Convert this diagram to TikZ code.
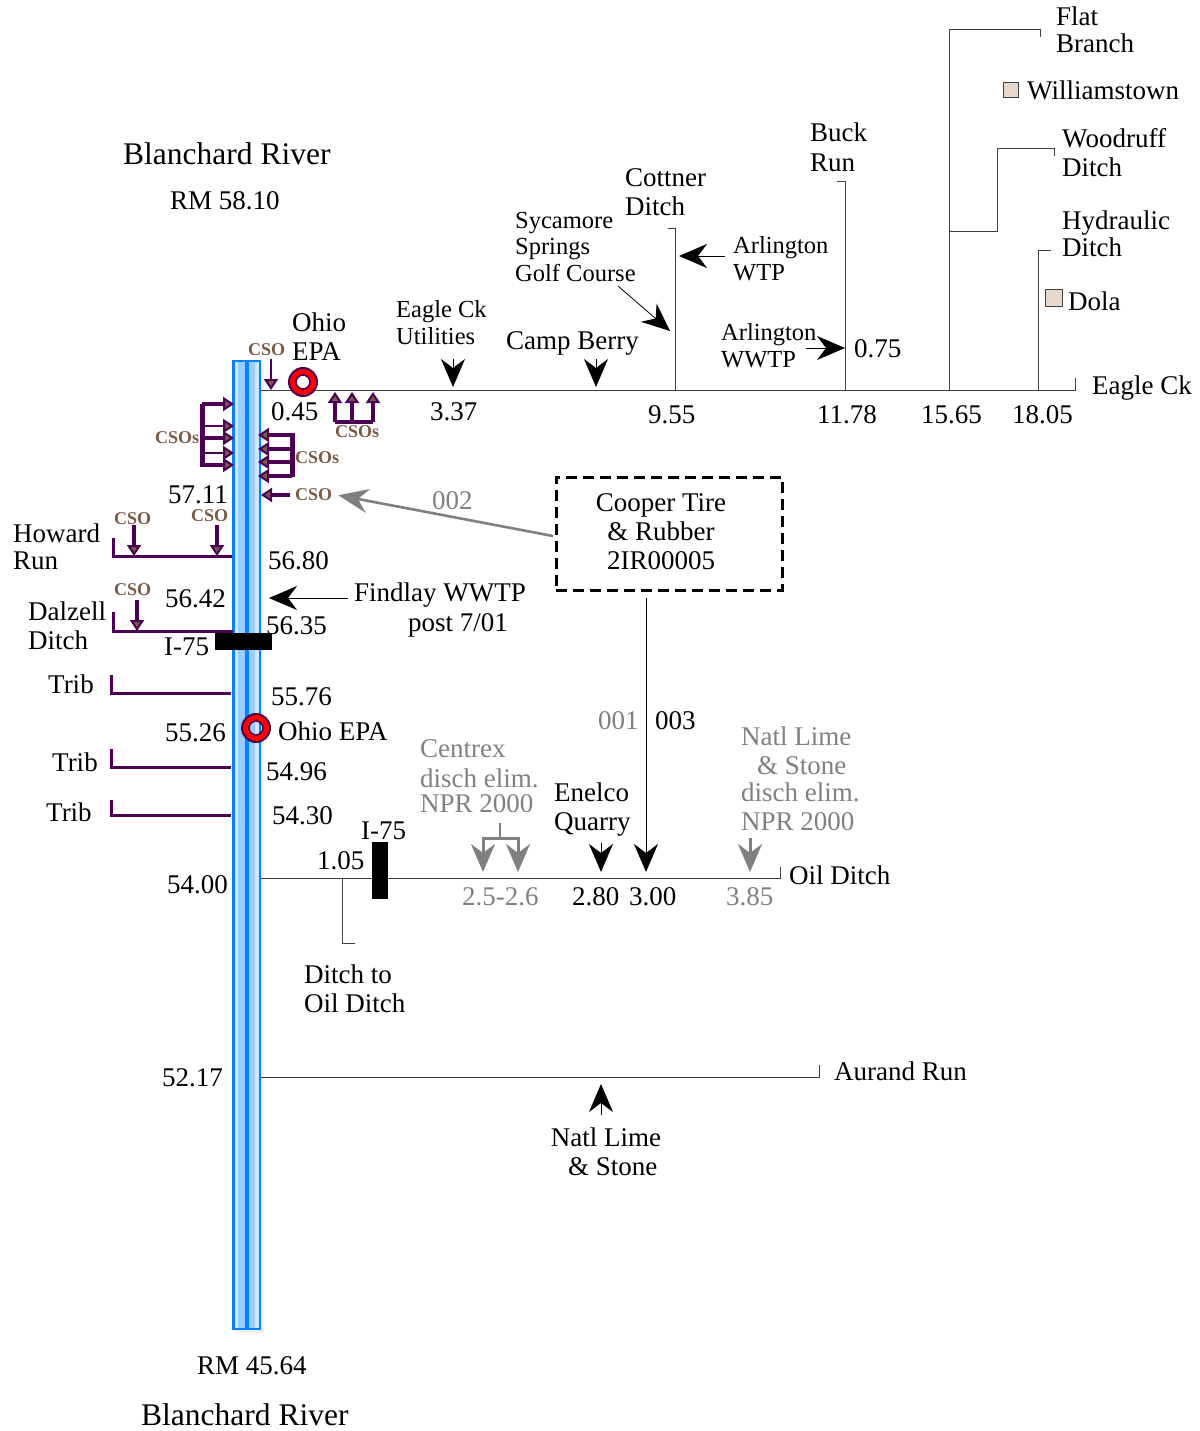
\documentclass[tikz,border=0pt]{standalone}
\usepackage{fontspec}
\setmainfont{Liberation Serif}
\usetikzlibrary{arrows.meta}
\definecolor{ink}{HTML}{404040}
\definecolor{faded}{HTML}{808080}
\definecolor{plum}{HTML}{4B0055}
\definecolor{csobrown}{HTML}{7A5A45}
\definecolor{riverblue}{HTML}{0A80FF}
\definecolor{rivermid}{HTML}{99CCFF}
\definecolor{riverpale}{HTML}{CFE7FF}
\definecolor{sandbox}{HTML}{E8D8CC}
\tikzset{
 lbl/.style={anchor=base west,inner sep=0pt,align=left,font=\fontsize{27}{29}\selectfont},
 lblc/.style={lbl,align=center,anchor=base},
 smalllbl/.style={lbl,font=\fontsize{24.5}{26.5}\selectfont},
 biglbl/.style={lbl,font=\fontsize{31.5}{33}\selectfont},
 gone/.style={text=faded},
 csolbl/.style={anchor=base west,inner sep=0pt,text=csobrown,font=\fontsize{18}{20}\selectfont\bfseries},
 stream/.style={draw=ink,line width=1pt},
 trib/.style={draw=plum,line width=3pt},
 discharge/.style={-{Stealth[length=28pt,width=24pt,inset=9pt]},draw=black,line width=.8pt},
 gonedischarge/.style={-{Stealth[length=28pt,width=24pt,inset=9pt]},draw=faded,line width=3pt},
 csopipe/.style={-{Triangle[length=11pt,width=14pt,line width=2pt,fill=csobrown]},draw=plum,line width=4.5pt},
 csothin/.style={csopipe,line width=2.5pt},
 roadbar/.style={fill=black,inner sep=0pt},
 townbox/.style={draw=ink,fill=sandbox,line width=.8pt,inner sep=0pt,minimum size=15pt},
 facility/.style={draw=black,line width=3pt,dash pattern=on 11pt off 6pt,inner sep=0pt}
}
\begin{document}
\begin{tikzpicture}[x=1pt,y=-1pt]
  \useasboundingbox (0,0) rectangle (1199,1431);

  % river bands
  \fill[riverpale!50] (235,363) rectangle (264,1333);
  \foreach \a/\b/\c in {232/261/riverblue,234.5/258.5/riverpale,238/255/rivermid,244.5/249/riverblue}
    \fill[\c] (\a,360) rectangle (\b,1330);
  \draw[riverblue,line width=2pt] (233,361) rectangle (260,1329);

  % tributaries on the left
  \foreach \n/\x/\t/\y/\e in {howard/113/538/556/232,dalzell/113/612/631/233,tribA/111/675/693/231,tribB/111/749/767/231,tribC/111/800/815/231}{
    \coordinate (\n top) at (\x,\t);
    \coordinate (\n mouth) at (\e,\y);
    \draw[trib] (\n top) |- (\n mouth);
  }

  % Eagle Creek and its branches
  \coordinate (eagleMouth) at (261,390);
  \coordinate (eagleEnd) at (1075,390);
  \coordinate (eagleTick) at (1075,378);
  \draw[stream] (eagleMouth) -- (eagleEnd) -- (eagleTick);
  \coordinate (cottnerFoot) at (675.5,390);
  \coordinate (cottnerTop) at (675.5,229);
  \coordinate (cottnerTick) at (668,229);
  \draw[stream] (cottnerFoot) -- (cottnerTop) -- (cottnerTick);
  \coordinate (buckFoot) at (845,390);
  \coordinate (buckTop) at (845,182);
  \coordinate (buckTick) at (837,182);
  \draw[stream] (buckFoot) -- (buckTop) -- (buckTick);
  \coordinate (flatFoot) at (949,390);
  \coordinate (flatBend) at (949,30);
  \coordinate (flatEnd) at (1040,30);
  \coordinate (flatTick) at (1040,37);
  \draw[stream] (flatFoot) -- (flatBend) -- (flatEnd) -- (flatTick);
  \coordinate (woodFoot) at (949,232);
  \coordinate (woodTop) at (997,149);
  \coordinate (woodEnd) at (1054,149);
  \coordinate (woodTick) at (1054,156);
  \draw[stream] (woodFoot) -| (woodTop) -- (woodEnd) -- (woodTick);
  \coordinate (hydraFoot) at (1038,390);
  \coordinate (hydraTop) at (1038,251);
  \coordinate (hydraTick) at (1051,251);
  \draw[stream] (hydraFoot) -- (hydraTop) -- (hydraTick);

  % Oil Ditch and Aurand Run
  \coordinate (oilMouth) at (261,878);
  \coordinate (oilEnd) at (780,878);
  \coordinate (oilTick) at (780,867);
  \draw[stream] (oilMouth) -- (oilEnd) -- (oilTick);
  \coordinate (subFoot) at (342.5,878);
  \coordinate (subEnd) at (355,943);
  \draw[stream] (subFoot) |- (subEnd);
  \coordinate (aurandMouth) at (261,1077);
  \coordinate (aurandEnd) at (819,1077);
  \coordinate (aurandTick) at (819,1065);
  \draw[stream] (aurandMouth) -- (aurandEnd) -- (aurandTick);

  % road crossings and towns
  \node[roadbar,minimum width=57pt,minimum height=17pt] (roadA) at (243.5,641.5) {};
  \node[roadbar,minimum width=16pt,minimum height=57pt] (roadB) at (380,870.5) {};
  \node[townbox] (williamstown) at (1010.5,89.5) {};
  \node[townbox,minimum size=17pt] (dola) at (1053.5,297.5) {};

  % sampling sites
  \foreach \n/\p in {siteA/{303,382},siteB/{256,728}}{
    \node[circle,draw=red,line width=7pt,minimum size=20pt,inner sep=0pt] (\n ring) at (\p) {};
    \node[circle,draw=plum,line width=2pt,minimum size=28pt,inner sep=0pt] (\n) at (\p) {};
    \node[circle,draw=plum,line width=1.6pt,minimum size=14pt,inner sep=0pt] (\n core) at (\p) {};
  }

  % facility box
  \node[facility,minimum width=226pt,minimum height=113pt] (cooper) at (669,533.5) {};
  \node[lblc] (cooperlbl) at (661,569) {Cooper Tire\\\& Rubber\\2IR00005};

  % texts
  \foreach \n/\p/\t in {
    blanchardTop/{123,165}/Blanchard River,blanchardEnd/{141,1425}/Blanchard River}
    \node[biglbl] (\n) at (\p) {\t};
  \foreach \n/\p/\t in {
    rmTop/{170,210}/RM 58.10,rmEnd/{197,1374}/RM 45.64,
    flat/{1056,52.5}/Flat\\[-2pt]Branch,williamslbl/{1027,100}/Williamstown,
    buck/{810,171.5}/Buck\\[1pt]Run,woodruff/{1062,177}/Woodruff\\Ditch,
    hydraulic/{1062,256}/Hydraulic\\[-3pt]Ditch,dolalbl/{1068,310}/Dola,
    cottner/{625,216}/Cottner\\Ditch,ohioA/{292,360}/Ohio\\EPA,
    campberry/{506,349}/Camp Berry,eagleck/{1092,394}/Eagle Ck,
    howardlbl/{13,569}/Howard\\[-2pt]Run,dalzelllbl/{28,649}/Dalzell\\Ditch,
    trA/{48,693}/Trib,trB/{52,771}/Trib,trC/{46,821}/Trib,
    ohioB/{278,740}/Ohio EPA,roadlblA/{164,655}/I-75,roadlblB/{361,839}/I-75,
    findlay/{354,601}/Findlay WWTP,findlaydate/{408,631}/{post 7/01},
    enelco/{554,830}/Enelco\\Quarry,oildlbl/{789,884}/Oil Ditch,
    ditchto/{304,1012}/Ditch to\\Oil Ditch,aurandlbl/{834,1080}/Aurand Run,
    mA/{271,420}/0.45,mB/{430,420}/3.37,mC/{648,423}/9.55,mD/{817,423}/11.78,
    mE/{921,423}/15.65,mF/{1012,423}/18.05,mG/{854,357}/0.75,
    mH/{168,503}/57.11,mI/{268,569}/56.80,mJ/{165,607}/56.42,mK/{266,634}/56.35,
    mL/{271,705}/55.76,mM/{165,741}/55.26,mN/{266,780}/54.96,mO/{272,824}/54.30,
    mP/{167,893}/54.00,mQ/{162,1086}/52.17,mR/{317,869}/1.05,
    mS/{572,905}/2.80,mT/{629,905}/3.00,out/{655,729}/003}
    \node[lbl] (\n) at (\p) {\t};
  \foreach \n/\p/\t in {
    arlA/{733,280}/Arlington\\WTP,arlB/{721,367}/Arlington\\WWTP,
    sycamore/{515,281}/Sycamore\\Springs\\Golf Course,
    utilities/{396,344}/Eagle Ck\\Utilities}
    \node[smalllbl] (\n) at (\p) {\t};
  \node[lblc] (natl) at (606,1175) {Natl Lime\\\ \ \& Stone};
  \foreach \n/\p/\t in {
    outA/{432,509}/002,outB/{598,729}/001,
    centrex/{420,812}/Centrex\\[1pt]disch elim.\\[-4pt]NPR 2000,
    natlgone/{741,830}/Natl Lime\\\hspace{16pt}\& Stone\\[-2pt]disch elim.\\NPR 2000,
    mU/{462,905}/2.5-2.6,mV/{726,905}/3.85}
    \node[lbl,gone] (\n) at (\p) {\t};
  \foreach \n/\p/\t in {
    csoA/{248,355}/CSO,csoB/{155,443}/CSOs,csoC/{335,437}/CSOs,csoD/{295,463}/CSOs,
    csoE/{295,500}/CSO,csoF/{114,524}/CSO,csoG/{191,521}/CSO,csoH/{114,595}/CSO}
    \node[csolbl] (\n) at (\p) {\t};

  % discharges
  \foreach \n/\a/\b in {
    util/{453,359}/{453,387},camp/{596,359}/{596,387},
    arlwtp/{725,256}/{679,256},golf/{618,286}/{670,331},arlww/{806,348}/{845,348},
    findlayout/{348,598}/{269,598},enel/{601,843}/{601,872},
    cooperout/{646,598}/{646,872},lime/{601,1115}/{601,1084}}{
    \coordinate (\n from) at (\a);
    \coordinate (\n to) at (\b);
    \draw[discharge] (\n from) -- (\n to);
  }
  \coordinate (cenFork) at (500,823);
  \coordinate (cenJoin) at (500,838);
  \coordinate (cenL) at (483,872);
  \coordinate (cenR) at (518,872);
  \coordinate (limeFrom) at (750,838);
  \coordinate (limeTo) at (750,872);
  \draw[faded,line width=2.4pt] (cenFork) -- (cenJoin);
  \draw[gonedischarge] (cenJoin) -| (cenL);
  \draw[gonedischarge] (cenJoin) -| (cenR);
  \draw[gonedischarge] (limeFrom) -- (limeTo);
  \coordinate (cooperStart) at (553,536);
  \draw[-{Stealth[length=30pt,width=24pt,inset=10pt]},draw=faded,line width=2.6pt,shorten >=6pt] (cooperStart) -- (csoE.east);

  % combined sewer overflows
  \coordinate (csoTopFrom) at (271,359);
  \coordinate (csoTopTo) at (271,390);
  \draw[csothin] (csoTopFrom) -- (csoTopTo);
  \coordinate (leftHeadTop) at (202,404);
  \coordinate (leftHeadEnd) at (202,467);
  \draw[plum,line width=5pt] (leftHeadTop) -- (leftHeadEnd);
  \foreach \n/\y/\s in {a/404/csopipe,b/426/csothin,c/438/csopipe,d/453/csothin,e/465/csopipe}{
    \coordinate (left\n) at (202,\y);
    \coordinate (leftend\n) at (234,\y);
    \draw[\s] (left\n) -- (leftend\n);
  }
  \coordinate (rightHeadTop) at (292,433);
  \coordinate (rightHeadEnd) at (292,477);
  \draw[plum,line width=5pt] (rightHeadTop) -- (rightHeadEnd);
  \foreach \n/\y/\s in {a/435/csopipe,b/449/csopipe,c/462/csopipe,d/476/csopipe}{
    \coordinate (right\n) at (292,\y);
    \coordinate (rightend\n) at (258,\y);
    \draw[\s] (right\n) -- (rightend\n);
  }
  \coordinate (singleFrom) at (290,495);
  \coordinate (singleTo) at (261,495);
  \draw[csopipe] (singleFrom) -- (singleTo);
  \coordinate (upLeft) at (335,422);
  \coordinate (upRight) at (373,422);
  \draw[plum,line width=4.5pt] (upLeft) -- (upRight);
  \foreach \n/\x in {a/335,b/352,c/373}{
    \coordinate (up\n) at (\x,422);
    \coordinate (upend\n) at (\x,392);
    \draw[csopipe] (up\n) -- (upend\n);
  }
  \foreach \n/\x/\a/\b in {f/134/525/556,g/217/525/556,h/137/600/631}{
    \coordinate (drop\n) at (\x,\a);
    \coordinate (dropend\n) at (\x,\b);
    \draw[csopipe] (drop\n) -- (dropend\n);
  }
\end{tikzpicture}
\end{document}
